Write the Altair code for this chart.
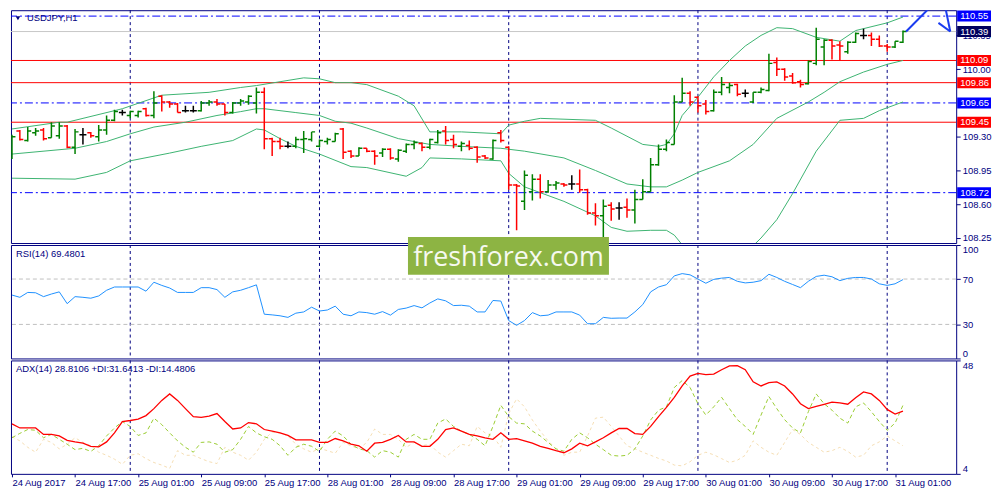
import altair as alt
import pandas as pd

# USDJPY H1 bars, 24 Aug 09:00 .. 31 Aug 02:00 (bar index 0..113)
bar_open = [109.15, 109.36, 109.26, 109.34, 109.37, 109.29, 109.31, 109.41, 109.19, 109.32,
            109.34, 109.30, 109.37, 109.47, 109.55, 109.52, 109.52, 109.59, 109.52, 109.72,
            109.66, 109.64, 109.57, 109.57, 109.57, 109.65, 109.66, 109.64, 109.55, 109.65,
            109.66, 109.65, 109.76, 109.28, 109.25, 109.20, 109.20, 109.27, 109.27, 109.20,
            109.25, 109.25, 109.38, 109.15, 109.10, 109.18, 109.15, 109.13, 109.17, 109.07,
            109.15, 109.22, 109.23, 109.19, 109.24, 109.36, 109.27, 109.20, 109.21, 109.19,
            109.10, 109.07, 109.34, 109.19, 108.80, 108.63, 108.73, 108.86, 108.73, 108.80,
            108.81, 108.81, 108.81, 108.75, 108.51, 108.48, 108.59, 108.56, 108.57, 108.54,
            108.65, 108.73, 109.01, 109.17, 109.22, 109.66, 109.75, 109.71, 109.64, 109.57,
            109.76, 109.81, 109.84, 109.75, 109.66, 109.76, 109.78, 110.07, 110.00, 109.93,
            109.87, 109.85, 110.06, 110.23, 110.30, 110.25, 110.18, 110.28, 110.35, 110.35,
            110.31, 110.24, 110.23, 110.28]
bar_high = [109.32, 109.37, 109.40, 109.39, 109.39, 109.45, 109.45, 109.42, 109.38, 109.39,
            109.35, 109.42, 109.52, 109.58, 109.58, 109.57, 109.57, 109.60, 109.77, 109.73,
            109.67, 109.65, 109.62, 109.62, 109.67, 109.68, 109.69, 109.64, 109.66, 109.69,
            109.73, 109.81, 109.81, 109.29, 109.29, 109.25, 109.30, 109.36, 109.35, 109.27,
            109.29, 109.34, 109.39, 109.16, 109.19, 109.18, 109.16, 109.18, 109.18, 109.17,
            109.23, 109.26, 109.24, 109.28, 109.37, 109.41, 109.32, 109.25, 109.26, 109.20,
            109.11, 109.27, 109.37, 109.20, 108.81, 108.95, 108.91, 108.91, 108.85, 108.84,
            108.82, 108.90, 108.96, 108.76, 108.61, 108.65, 108.62, 108.62, 108.66, 108.75,
            108.86, 109.08, 109.22, 109.27, 109.73, 109.91, 109.77, 109.72, 109.68, 109.79,
            109.92, 109.86, 109.85, 109.79, 109.76, 109.81, 110.16, 110.12, 110.01, 109.96,
            109.89, 110.09, 110.43, 110.31, 110.31, 110.29, 110.29, 110.38, 110.42, 110.38,
            110.35, 110.26, 110.29, 110.40]
bar_low = [109.07, 109.26, 109.25, 109.31, 109.26, 109.29, 109.28, 109.18, 109.12, 109.22,
           109.29, 109.25, 109.32, 109.46, 109.52, 109.49, 109.50, 109.51, 109.49, 109.56,
           109.60, 109.55, 109.55, 109.55, 109.56, 109.62, 109.62, 109.52, 109.54, 109.62,
           109.63, 109.54, 109.17, 109.10, 109.17, 109.18, 109.18, 109.13, 109.25, 109.19,
           109.22, 109.25, 109.07, 109.08, 109.10, 109.14, 109.01, 109.09, 109.06, 109.04,
           109.13, 109.17, 109.15, 109.17, 109.23, 109.22, 109.18, 109.15, 109.16, 109.03,
           109.07, 109.06, 109.24, 108.75, 108.33, 108.54, 108.64, 108.66, 108.72, 108.75,
           108.78, 108.75, 108.72, 108.49, 108.38, 108.21, 108.43, 108.44, 108.46, 108.40,
           108.65, 108.73, 109.00, 109.15, 109.22, 109.66, 109.62, 109.55, 109.53, 109.56,
           109.73, 109.75, 109.72, 109.71, 109.65, 109.75, 109.77, 109.93, 109.88, 109.85,
           109.81, 109.84, 110.04, 110.04, 110.10, 110.09, 110.16, 110.27, 110.31, 110.24,
           110.23, 110.18, 110.22, 110.27]
bar_close = [109.30, 109.27, 109.36, 109.36, 109.28, 109.41, 109.41, 109.19, 109.35, 109.32,
             109.31, 109.37, 109.47, 109.56, 109.55, 109.56, 109.56, 109.52, 109.65, 109.66,
             109.64, 109.55, 109.57, 109.57, 109.65, 109.66, 109.64, 109.55, 109.65, 109.67,
             109.72, 109.76, 109.28, 109.25, 109.20, 109.20, 109.27, 109.28, 109.35, 109.26,
             109.27, 109.33, 109.14, 109.10, 109.18, 109.15, 109.10, 109.17, 109.08, 109.16,
             109.22, 109.24, 109.19, 109.27, 109.34, 109.26, 109.22, 109.23, 109.18, 109.09,
             109.08, 109.26, 109.26, 108.80, 108.79, 108.90, 108.86, 108.73, 108.80, 108.82,
             108.80, 108.81, 108.75, 108.51, 108.48, 108.58, 108.55, 108.56, 108.54, 108.65,
             108.73, 109.01, 109.17, 109.24, 109.66, 109.75, 109.66, 109.62, 109.56, 109.76,
             109.84, 109.83, 109.74, 109.75, 109.76, 109.79, 110.06, 110.00, 109.92, 109.86,
             109.84, 110.08, 110.31, 110.30, 110.24, 110.24, 110.28, 110.37, 110.35, 110.31,
             110.24, 110.23, 110.29, 110.39]

# Bollinger bands (20) read at selected bars
bb_upper_idx = [0, 6, 7, 14, 19, 25, 29, 31, 34, 37, 39, 41, 43, 45, 49, 51, 53, 57, 62, 63,
                65, 67, 74, 76, 80, 82, 83, 84, 85, 87, 89, 91, 93, 95, 97, 99, 102, 105, 107, 111, 113]
bb_upper = [109.38, 109.45, 109.45, 109.59, 109.73, 109.76, 109.81, 109.83, 109.87, 109.91,
            109.90, 109.86, 109.86, 109.84, 109.72, 109.62, 109.35, 109.35, 109.33, 109.42,
            109.46, 109.49, 109.47, 109.39, 109.22, 109.20, 109.22, 109.33, 109.52, 109.71,
            109.92, 110.09, 110.24, 110.35, 110.43, 110.42, 110.33, 110.29, 110.40, 110.48, 110.54]
bb_mid_idx = [0, 8, 12, 15, 18, 22, 26, 29, 31, 32, 36, 39, 41, 43, 45, 49, 53, 57, 62, 65,
              70, 74, 78, 81, 83, 85, 87, 91, 94, 97, 101, 103, 105, 108, 111, 113]
bb_mid = [109.12, 109.18, 109.25, 109.33, 109.40, 109.45, 109.52, 109.56, 109.59, 109.59,
          109.55, 109.52, 109.46, 109.44, 109.39, 109.28, 109.22, 109.20, 109.18, 109.15,
          109.08, 108.95, 108.81, 108.78, 108.78, 108.85, 108.93, 109.05, 109.22, 109.49,
          109.66, 109.76, 109.87, 109.97, 110.05, 110.09]
bb_lower_idx = [0, 8, 12, 15, 20, 24, 28, 31, 32, 34, 36, 39, 43, 45, 50, 52, 53, 57, 62, 63,
                65, 70, 74, 76, 78, 81, 83, 84, 85, 86, 88, 90, 92, 94, 95, 97, 99, 102, 105, 108, 110, 113]
bb_lower = [108.87, 108.86, 108.93, 109.05, 109.13, 109.20, 109.26, 109.38, 109.37, 109.28,
            109.20, 109.12, 108.99, 108.98, 108.89, 108.98, 109.08, 109.07, 109.05, 108.92,
            108.78, 108.63, 108.48, 108.36, 108.32, 108.33, 108.33, 108.28, 108.18, 108.07,
            108.02, 108.00, 108.05, 108.17, 108.25, 108.44, 108.71, 109.15, 109.47, 109.49,
            109.57, 109.66]

rsi = [55.9, 53.9, 58.2, 57.9, 54.5, 56.8, 58.7, 48.3, 54.5, 53.9,
       53.1, 55.1, 60.1, 63.0, 63.0, 63.0, 63.0, 59.3, 67.2, 64.4,
       62.1, 58.2, 58.2, 58.2, 62.4, 62.4, 60.7, 53.9, 58.7, 60.1,
       62.4, 64.9, 39.0, 38.4, 37.6, 36.2, 39.9, 41.0, 45.2, 41.8,
       42.7, 46.1, 39.0, 37.6, 41.0, 40.4, 39.0, 41.3, 38.2, 43.2,
       44.4, 46.6, 44.6, 48.9, 52.5, 50.8, 46.6, 46.9, 46.1, 41.0,
       41.0, 51.1, 50.6, 33.4, 29.2, 33.4, 40.4, 37.6, 38.2, 41.0,
       41.0, 41.0, 38.2, 30.6, 30.6, 36.2, 35.4, 35.6, 35.6, 41.0,
       47.5, 58.7, 63.0, 65.0, 72.8, 74.8, 73.7, 70.0, 66.3, 69.7,
       70.8, 71.4, 68.0, 66.6, 67.2, 68.6, 74.2, 71.4, 68.0, 65.2,
       62.4, 68.0, 72.3, 73.4, 72.0, 68.6, 70.6, 71.4, 71.4, 70.0,
       65.8, 64.4, 65.8, 69.5]
adx = [23.4, 21.8, 21.8, 21.8, 19.3, 19.3, 18.7, 17.0, 16.4, 15.9,
       14.7, 14.5, 16.4, 19.9, 24.3, 24.7, 25.2, 26.6, 29.3, 32.5,
       35.0, 32.5, 29.3, 26.2, 25.9, 26.4, 27.4, 24.3, 21.4, 21.8,
       23.9, 23.4, 21.2, 20.6, 19.9, 18.9, 17.2, 17.2, 17.2, 16.2,
       16.2, 17.7, 16.8, 15.5, 14.9, 12.8, 15.9, 16.2, 17.4, 18.9,
       16.4, 16.4, 14.7, 14.7, 17.4, 21.2, 21.8, 20.6, 19.3, 18.7,
       18.0, 17.4, 19.9, 17.4, 17.7, 16.8, 15.9, 14.7, 13.9, 13.0,
       12.2, 13.7, 15.9, 14.9, 16.4, 18.0, 19.9, 21.6, 21.6, 19.6,
       19.3, 22.4, 26.2, 29.8, 33.7, 38.1, 41.9, 43.0, 42.5, 42.7,
       44.4, 45.9, 46.0, 44.4, 39.7, 38.1, 39.4, 39.7, 38.1, 35.0,
       31.2, 29.3, 30.2, 31.0, 31.8, 31.5, 31.0, 33.5, 35.8, 35.0,
       32.5, 29.0, 27.2, 28.3]
plus_di = [18.0, 19.7, 21.2, 20.9, 18.0, 19.3, 17.4, 15.5, 13.4, 13.9,
           12.7, 14.9, 18.7, 21.8, 24.3, 22.4, 18.9, 19.9, 25.6, 23.1,
           19.9, 16.8, 14.3, 12.4, 16.2, 16.4, 15.5, 12.4, 13.4, 17.4,
           22.4, 19.9, 18.4, 17.4, 14.9, 11.2, 14.3, 15.5, 14.7, 12.7,
           17.4, 20.6, 18.7, 15.5, 13.7, 13.0, 10.5, 13.0, 12.4, 10.5,
           17.4, 19.3, 17.4, 17.4, 23.7, 25.3, 22.4, 20.6, 19.3, 17.4,
           14.9, 22.4, 30.6, 26.2, 23.7, 23.4, 20.6, 18.7, 16.2, 13.7,
           12.8, 17.4, 19.9, 18.0, 15.5, 13.4, 11.2, 10.9, 11.2, 13.7,
           18.7, 24.9, 28.7, 30.0, 37.5, 40.2, 37.5, 31.2, 26.8, 30.0,
           33.7, 29.3, 25.0, 22.4, 19.3, 26.8, 34.0, 29.3, 25.0, 21.8,
           19.9, 28.1, 35.0, 31.2, 28.7, 25.6, 23.7, 30.0, 31.5, 28.1,
           24.3, 20.9, 23.7, 30.6]
minus_di = [18.4, 16.8, 14.3, 12.4, 17.4, 16.2, 13.7, 15.5, 18.0, 16.2,
            14.9, 12.4, 11.2, 9.7, 7.7, 11.2, 11.8, 9.9, 8.4, 7.4,
            6.1, 13.0, 11.2, 11.2, 9.9, 8.7, 8.0, 14.3, 12.4, 11.2,
            9.3, 12.4, 17.4, 20.2, 19.9, 18.7, 15.5, 13.7, 12.4, 13.9,
            13.0, 12.0, 16.2, 14.9, 13.7, 16.2, 21.4, 19.3, 19.3, 17.4,
            14.3, 16.2, 14.9, 15.5, 12.4, 10.5, 13.0, 15.5, 14.9, 22.4,
            19.9, 18.7, 14.3, 27.4, 33.1, 30.0, 24.9, 20.6, 16.8, 13.7,
            11.2, 12.4, 12.4, 18.7, 25.6, 26.0, 22.4, 18.7, 14.9, 13.7,
            12.4, 11.2, 10.0, 9.0, 7.4, 7.1, 8.7, 11.2, 12.4, 11.4,
            9.9, 8.4, 9.3, 11.2, 16.8, 14.3, 12.4, 11.2, 16.2, 21.2,
            19.3, 16.2, 14.3, 12.4, 13.0, 14.3, 12.7, 10.5, 11.2, 14.9,
            16.4, 18.7, 16.8, 14.9]

red_levels = [110.09, 109.86, 109.45]
blue_levels = [110.55, 109.65, 108.72]
bid_price = 110.39
price_ticks = [108.25, 108.60, 108.95, 109.30, 110.00, 110.35]
rsi_levels = [30, 70]
day_starts = [15, 39, 63, 87, 111]
time_tick_idx = [0, 8, 16, 24, 32, 40, 48, 56, 64, 72, 80, 88, 96, 104, 112]
time_tick_labels = ["24 Aug 2017", "24 Aug 17:00", "25 Aug 01:00", "25 Aug 09:00", "25 Aug 17:00",
                    "28 Aug 01:00", "28 Aug 09:00", "28 Aug 17:00", "29 Aug 01:00", "29 Aug 09:00",
                    "29 Aug 17:00", "30 Aug 01:00", "30 Aug 09:00", "30 Aug 17:00", "31 Aug 01:00"]
# hand drawn trend line + arrow (bar index, price)
draw_seg = ["up", "up", "down", "down", "head", "head"]
draw_idx = [113.4, 116.3, 118.4, 119.0, 117.5, 119.0]
draw_price = [110.39, 110.63, 110.63, 110.39, 110.48, 110.39]

FONT = "Liberation Sans"
FS = 9.5
NAVY = "#000080"
W = 950
H_PRICE, H_RSI, H_ADX = 234, 114, 114

n = len(bar_open)
idx = list(range(n))
bars = pd.DataFrame({"i": idx, "o": bar_open, "h": bar_high, "l": bar_low, "c": bar_close})
bars["dir"] = ["up" if c > o else ("down" if c < o else "flat") for o, c in zip(bar_open, bar_close)]

bands = pd.concat([
    pd.DataFrame({"band": "upper", "i": bb_upper_idx, "v": bb_upper}),
    pd.DataFrame({"band": "mid", "i": bb_mid_idx, "v": bb_mid}),
    pd.DataFrame({"band": "lower", "i": bb_lower_idx, "v": bb_lower}),
])
levels = pd.DataFrame({
    "p": red_levels + blue_levels + [bid_price],
    "kind": ["solid"] * len(red_levels) + ["dashdot"] * len(blue_levels) + ["bid"],
})
days = pd.DataFrame({"i": day_starts})
drawing = pd.DataFrame({"seg": draw_seg, "i": draw_idx, "p": draw_price, "ord": range(len(draw_seg))})

px = alt.Scale(domain=[-0.125, 119.75], nice=False, zero=False)
py = alt.Scale(domain=[108.198, 110.611], nice=False, zero=False)
price_axis = alt.Axis(orient="right", values=price_ticks, format=".2f", tickSize=4, labelPadding=2)

labels_js = "[" + ",".join("'" + s + "'" for s in time_tick_labels) + "]"
idx_js = "[" + ",".join(str(v) for v in time_tick_idx) + "]"
time_axis = alt.Axis(values=time_tick_idx, labelExpr=f"{labels_js}[indexof({idx_js}, datum.value)]",
                     labelAlign="left", labelBaseline="top", labelFlush=False, labelOverlap=False,
                     tickSize=3, labelPadding=1)


def xenc(field, axis=None):
    return alt.X(field, type="quantitative", scale=px, axis=axis, title="")


def yp(field):
    return alt.Y(field, type="quantitative", scale=py, axis=price_axis, title="")


dir_color = alt.Color("dir:N", scale=alt.Scale(domain=["up", "down", "flat"],
                                              range=["#008000", "#ff0000", "#000000"]), legend=None)
kind_scale = alt.Scale(domain=["solid", "dashdot", "bid"], range=["#ff0000", "#0000ff", "#00005e"])

day_lines = alt.Chart(days).mark_rule(color=NAVY, strokeDash=[3, 3], strokeWidth=1).encode(x=xenc("i"))
red_lines = alt.Chart(levels[levels.kind == "solid"]).mark_rule(color="#ff0000", strokeWidth=1).encode(y=yp("p"))
blue_lines = alt.Chart(levels[levels.kind == "dashdot"]).mark_rule(
    color="#0000ff", strokeWidth=1, strokeDash=[8, 3, 2, 3]).encode(y=yp("p"))
bid_line = alt.Chart(levels[levels.kind == "bid"]).mark_rule(color="#c8c8c8", strokeWidth=1).encode(y=yp("p"))
bb = alt.Chart(bands).mark_line(color="#3cb371", strokeWidth=1, clip=True).encode(
    x=xenc("i"), y=yp("v"), detail="band:N")
hl = alt.Chart(bars).mark_rule(strokeWidth=1.5, clip=True).encode(
    x=xenc("i"), y=yp("l"), y2="h:Q", color=dir_color)
op = alt.Chart(bars).mark_rule(strokeWidth=1.5, xOffset=-3.5, clip=True).encode(
    x=xenc("i"), x2="i:Q", y=yp("o"), color=dir_color)
cl = alt.Chart(bars).mark_rule(strokeWidth=1.5, x2Offset=3.5, clip=True).encode(
    x=xenc("i"), x2="i:Q", y=yp("c"), color=dir_color)
draw = alt.Chart(drawing).mark_line(color="#1a3cf0", strokeWidth=2, clip=True).encode(
    x=xenc("i"), y=yp("p"), detail="seg:N", order="ord:Q")
boxes = alt.Chart(levels).mark_rect(clip=False, yOffset=-5.5, y2Offset=5.5).encode(
    x=alt.value(W + 1), x2=alt.value(W + 35), y=yp("p"), y2="p:Q",
    fill=alt.Fill("kind:N", scale=kind_scale, legend=None))
box_text = alt.Chart(levels).mark_text(clip=False, align="left", baseline="middle", font=FONT,
                                       fontSize=FS, color="white").encode(
    x=alt.value(W + 4), y=yp("p"), text=alt.Text("p:Q", format=".2f"))
sym_df = pd.DataFrame({"t": ["USDJPY,H1"]})
sym = alt.Chart(sym_df).mark_text(align="left", baseline="middle", font=FONT, fontSize=FS,
                                  color=NAVY).encode(x=alt.value(16), y=alt.value(8), text="t:N")
tri = alt.Chart(sym_df).mark_point(shape="triangle-down", filled=True, size=22, color=NAVY,
                                   opacity=1).encode(x=alt.value(7), y=alt.value(8))

price = alt.layer(day_lines, red_lines, blue_lines, bid_line, bb, hl, op, cl, draw, boxes, box_text,
                  sym, tri).properties(width=W, height=H_PRICE)

# RSI panel
ry = alt.Scale(domain=[0, 100], nice=False, zero=False)
rsi_axis = alt.Axis(orient="right", values=[0, 30, 70, 100], tickSize=4, labelPadding=2, labelFlush=True)
rsi_df = pd.DataFrame({"i": idx, "v": rsi})
rsi_lv = pd.DataFrame({"v": rsi_levels})
rsi_title = pd.DataFrame({"t": ["RSI(14) 69.4801"]})
wm = pd.DataFrame({"t": ["freshforex.com"]})
rsi_chart = alt.layer(
    day_lines,
    alt.Chart(rsi_lv).mark_rule(color="#c0c0c0", strokeDash=[4, 3], strokeWidth=1).encode(
        y=alt.Y("v:Q", scale=ry, axis=rsi_axis, title="")),
    alt.Chart(rsi_df).mark_line(color="#1e90ff", strokeWidth=1).encode(
        x=xenc("i"), y=alt.Y("v:Q", scale=ry, axis=rsi_axis, title="")),
    alt.Chart(rsi_title).mark_text(align="left", baseline="middle", font=FONT, fontSize=FS,
                                   color=NAVY).encode(x=alt.value(5), y=alt.value(9), text="t:N"),
    alt.Chart(wm).mark_rect(color="#8db443", clip=False).encode(
        x=alt.value(399), x2=alt.value(601), y=alt.value(-8), y2=alt.value(30)),
    alt.Chart(wm).mark_text(font="Open Sans", fontSize=27, color="#f6f9f0", align="center",
                            baseline="alphabetic", clip=False).encode(
        x=alt.value(500), y=alt.value(21), text="t:N"),
).properties(width=W, height=H_RSI)

# ADX panel
ay = alt.Scale(domain=[4, 48], nice=False, zero=False)
adx_axis = alt.Axis(orient="right", values=[4, 48], tickSize=4, labelPadding=2, labelFlush=True)
adx_df = pd.DataFrame({"i": idx, "adx": adx, "pdi": plus_di, "mdi": minus_di})
adx_title = pd.DataFrame({"t": ["ADX(14) 28.8106 +DI:31.6413 -DI:14.4806"]})
adx_days = alt.Chart(days).mark_rule(color=NAVY, strokeDash=[3, 3], strokeWidth=1).encode(
    x=xenc("i", time_axis))
adx_chart = alt.layer(
    adx_days,
    alt.Chart(adx_df).mark_line(color="#f5deb3", strokeWidth=1, strokeDash=[3, 3]).encode(
        x=xenc("i", time_axis), y=alt.Y("mdi:Q", scale=ay, axis=adx_axis, title="")),
    alt.Chart(adx_df).mark_line(color="#9acd32", strokeWidth=1, strokeDash=[4, 3]).encode(
        x=xenc("i", time_axis), y=alt.Y("pdi:Q", scale=ay, axis=adx_axis, title="")),
    alt.Chart(adx_df).mark_line(color="#ff0000", strokeWidth=1.3).encode(
        x=xenc("i", time_axis), y=alt.Y("adx:Q", scale=ay, axis=adx_axis, title="")),
    alt.Chart(adx_title).mark_text(align="left", baseline="middle", font=FONT, fontSize=FS,
                                   color=NAVY).encode(x=alt.value(5), y=alt.value(9), text="t:N"),
).properties(width=W, height=H_ADX)

chart = alt.vconcat(price, rsi_chart, adx_chart, spacing=2, bounds="flush", padding=0,
                    background="white").configure_view(
    stroke=NAVY, strokeWidth=1
).configure_axis(
    labelFont=FONT, labelFontSize=FS, labelColor=NAVY, tickColor=NAVY, domain=False, grid=False
)

chart.save("out.html", embed_options={"renderer": "svg", "actions": False})
